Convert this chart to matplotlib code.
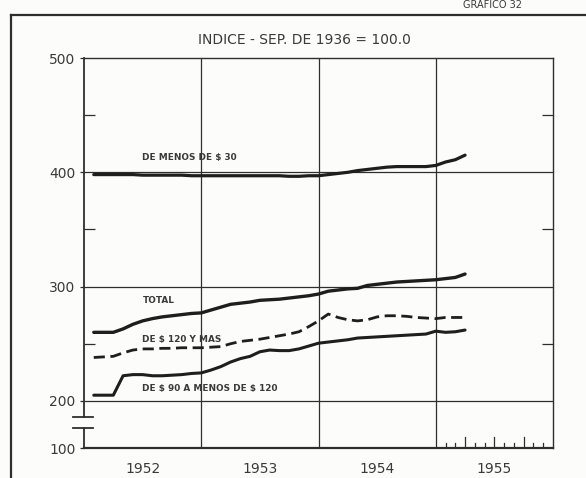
import numpy as np
import matplotlib.pyplot as plt
from matplotlib.lines import Line2D

# meses: feb 1952 .. abr 1955
meses = 1952 + np.arange(1, 40) / 12

menos_30 = [398, 398, 398, 398, 398, 397.5, 397.5, 397.5, 397.5, 397.5,
            397, 397, 397, 397, 397, 397, 397, 397, 397, 397,
            396.5, 396.5, 397, 397, 398, 399, 400, 401.5, 402.5, 403.5,
            404.5, 405, 405, 405, 405, 406, 409, 411, 415]
total = [260, 260, 260, 263, 267, 270, 272, 273.5, 274.5, 275.5,
         276.5, 277, 279.5, 282, 284.5, 285.5, 286.5, 288, 288.5, 289,
         290, 291, 292, 293.5, 296, 297, 298, 298.5, 301, 302,
         303, 304, 304.5, 305, 305.5, 306, 307, 308, 311]
de_120_mas = [238, 238.5, 239, 242, 244.5, 245.5, 245.5, 246, 246, 246.5,
              246.5, 246.5, 247, 247.5, 250, 252, 253, 254, 255.5, 257,
              258.5, 260.5, 265, 270, 276, 273, 271, 270, 271, 273.5,
              274.5, 274.5, 274, 273, 272.5, 272, 273, 273, 273]
de_90_120 = [205, 205, 205, 222, 223, 223, 222, 222, 222.5, 223,
             224, 224.5, 227, 230, 234, 237, 239, 243, 244.5, 244,
             244, 245.5, 248, 250.5, 251.5, 252.5, 253.5, 255, 255.5, 256,
             256.5, 257, 257.5, 258, 258.5, 261, 260, 260.5, 262]

anios = [1952, 1953, 1954, 1955]
y_ticks = [100, 200, 300, 400, 500]

INK = '#2e2e2e'
TXT = '#3a3a3a'
RATIO = 0.412  # tramo comprimido 100-200


def fwd(y):
    y = np.asarray(y, dtype=float)
    return np.where(y >= 200, y, 200 - (200 - y) * RATIO)


def inv(y):
    y = np.asarray(y, dtype=float)
    return np.where(y >= 200, y, 200 - (200 - y) / RATIO)


fig = plt.figure(figsize=(5.86, 4.78), dpi=100, facecolor='#fcfcfa')
ax = fig.add_axes([84 / 586, 1 - 448 / 478, 469 / 586, 390 / 478])
ax.set_facecolor('none')
ax.set_yscale('function', functions=(fwd, inv))
ax.set_xlim(1952, 1956)
ax.set_ylim(100, 500)

# rejilla
for y in [200, 300, 400]:
    ax.axhline(y, color=INK, lw=0.9, zorder=1)
for x in [1953, 1954, 1955]:
    ax.axvline(x, color=INK, lw=0.9, zorder=1)

# series
ax.plot(meses, menos_30, color='#1e1e1e', lw=2.3, solid_capstyle='round', zorder=3)
ax.plot(meses, total, color='#1e1e1e', lw=2.4, solid_capstyle='round', zorder=3)
ax.plot(meses, de_120_mas, color='#1e1e1e', lw=2.0, dashes=(4, 2), zorder=3)
ax.plot(meses, de_90_120, color='#1e1e1e', lw=2.2, solid_capstyle='round', zorder=3)

lab = dict(fontsize=6.4, fontweight='bold', color=TXT, va='center', ha='left')
ax.text(1952.495, 413, r'DE MENOS DE \$ 30', **lab)
ax.text(1952.505, 288, 'TOTAL', **lab)
ax.text(1952.495, 254, r'DE \$ 120 Y MAS', **lab)
ax.text(1952.495, 211, r'DE \$ 90 A MENOS DE \$ 120', **lab)

# ejes
for s in ['top', 'right', 'bottom']:
    ax.spines[s].set_color(INK)
    ax.spines[s].set_linewidth(1.0)
ax.spines['bottom'].set_linewidth(1.6)
ax.spines['left'].set_visible(False)
yt = ax.get_yaxis_transform()
ax.plot([0, 0], [100, 142.5], color=INK, lw=1.3, transform=yt, clip_on=False)
ax.plot([0, 0], [166, 500], color=INK, lw=1.3, transform=yt, clip_on=False)
for yb in [142.5, 166]:
    ax.plot([-0.023, 0.019], [yb, yb], color=INK, lw=1.3, transform=yt, clip_on=False)

ax.set_yticks(y_ticks)
ax.set_yticklabels([str(v) for v in y_ticks], fontsize=10, color=TXT)
ax.tick_params(axis='y', length=3, width=0.9, color=INK, pad=3, direction='out')
ax.set_yticks([250, 350, 450], minor=True)
ax.tick_params(axis='y', which='minor', length=8, width=0.9, color=INK,
               direction='in', right=True)

ax.set_xticks([a + 0.5 for a in anios])
ax.set_xticklabels([str(a) for a in anios], fontsize=10, color=TXT)
ax.tick_params(axis='x', length=0, pad=10)
ax.xaxis.set_minor_locator(plt.NullLocator())

# marcas mensuales de 1955
xt = ax.get_xaxis_transform()
for k in range(1, 12):
    h = 0.028 if k % 3 == 0 else 0.014
    ax.plot([1955 + k / 12] * 2, [0, h], color=INK, lw=0.9, transform=xt)

# titulo y marco
fig.text(0.52, 1 - 40 / 478, 'INDICE - SEP. DE 1936 = 100.0', ha='center', va='center',
         fontsize=10, color=TXT)
fig.text(0.79, 1.0, 'GRAFICO 32', ha='left', va='top', fontsize=7, color=TXT)
fig.add_artist(Line2D([11 / 586, 11 / 586], [0, 1 - 15 / 478], color=INK, lw=1.6))
fig.add_artist(Line2D([11 / 586, 1], [1 - 15 / 478, 1 - 15 / 478], color=INK, lw=1.6))

fig.savefig('out.png', dpi=100, facecolor=fig.get_facecolor())
